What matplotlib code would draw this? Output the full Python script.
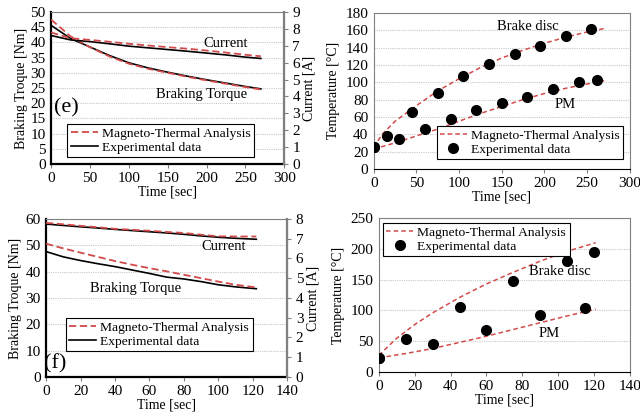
import matplotlib
matplotlib.use("Agg")
import matplotlib.pyplot as plt

plt.rcParams["font.family"] = ["Liberation Serif", "DejaVu Serif"]
plt.rcParams["font.size"] = 10
plt.rcParams["xtick.labelsize"] = 11
plt.rcParams["ytick.labelsize"] = 11

RED = "#d24b4b"

# ---------------- (e) torque / current ----------------
e_t_exp = [0, 25, 50, 75, 100, 125, 150, 175, 200, 225, 250, 270]
e_torque_exp = [45.6, 41.3, 38.5, 35.7, 33.3, 31.6, 30.2, 28.9, 27.7, 26.6, 25.5, 24.7]
e_torque_mta = [47.5, 42.0, 38.4, 35.4, 33.0, 31.3, 30.0, 28.7, 27.5, 26.4, 25.3, 24.5]
e_cur_exp = [7.61, 7.35, 7.25, 7.12, 6.98, 6.88, 6.78, 6.68, 6.57, 6.46, 6.33, 6.25]
e_cur_mta = [7.79, 7.45, 7.35, 7.24, 7.12, 7.02, 6.92, 6.83, 6.72, 6.60, 6.47, 6.38]
e_xticks = [0, 50, 100, 150, 200, 250, 300]

# ---------------- (e) temperatures ----------------
e_t_disc_line = [0, 10, 25, 50, 75, 100, 125, 150, 175, 200, 225, 250, 270]
e_disc_line = [25, 40, 55, 73, 90, 104, 117, 128, 137, 145, 152, 158, 162]
e_t_pm_line = [0, 25, 50, 75, 100, 125, 150, 175, 200, 225, 250, 270]
e_pm_line = [23, 30, 38, 46, 55, 64, 72, 80, 87, 93, 98, 102]
e_disc_t = [0, 15, 45, 75, 105, 135, 165, 195, 225, 255]
e_disc_pts = [25, 38, 66, 88, 107, 121, 133, 142, 153, 161]
e_pm_t = [0, 30, 60, 90, 120, 150, 180, 210, 240, 262]
e_pm_pts = [25, 34, 46, 58, 68, 76, 83, 92, 100, 103]

# ---------------- (f) torque / current ----------------
f_t = [0, 10, 20, 30, 40, 50, 60, 70, 80, 90, 100, 110, 122]
f_torque_exp = [47.6, 45.6, 44.2, 43.0, 41.9, 40.6, 39.3, 37.9, 37.2, 36.2, 35.0, 34.2, 33.5]
f_torque_mta = [50.6, 48.8, 47.2, 45.6, 44.0, 42.6, 41.3, 40.1, 38.8, 37.5, 36.2, 35.0, 34.0]
f_cur_exp = [7.74, 7.67, 7.60, 7.54, 7.47, 7.41, 7.35, 7.29, 7.22, 7.14, 7.07, 7.02, 6.97]
f_cur_mta = [7.80, 7.73, 7.65, 7.58, 7.50, 7.45, 7.40, 7.34, 7.29, 7.20, 7.12, 7.11, 7.11]
f_xticks = [0, 20, 40, 60, 80, 100, 120, 140]

# ---------------- (f) temperatures ----------------
f_t_disc_line = [0, 10, 20, 30, 45, 60, 75, 90, 105, 121]
f_disc_line = [27, 55, 77, 96, 121, 143, 162, 180, 196, 210]
f_t_pm_line = [0, 15, 30, 45, 60, 75, 90, 105, 121]
f_pm_line = [23, 30, 38, 48, 58, 69, 80, 91, 102]
f_disc_t = [0, 15, 45, 75, 105, 120]
f_disc_pts = [23, 54, 106, 148, 180, 195]
f_pm_t = [0, 30, 60, 90, 115]
f_pm_pts = [23, 46, 68, 92, 104]


def style_axes(ax, dark_left=True):
    ax.grid(axis="y", color="#c8c8c8", linestyle=(0, (1, 1)), linewidth=0.8)
    ax.set_axisbelow(True)
    for s in ["top", "right"]:
        ax.spines[s].set_color("#808080")
        ax.spines[s].set_linewidth(0.8)
    ax.spines["bottom"].set_color("black")
    ax.spines["bottom"].set_linewidth(1.6 if dark_left else 0.8)
    ax.spines["left"].set_color("black" if dark_left else "#808080")
    ax.spines["left"].set_linewidth(1.6 if dark_left else 0.8)
    ax.tick_params(axis="y", length=0, pad=4)
    ax.tick_params(axis="x", length=3, color="#808080", pad=3)


def legend(ax, **kw):
    leg = ax.legend(fancybox=False, edgecolor="black", framealpha=1,
                    handlelength=2.0, handletextpad=0.3, borderpad=0.25,
                    labelspacing=0.1, fontsize=9.7, **kw)
    leg.get_frame().set_linewidth(0.8)
    return leg


def torque_panel(rect, t, tq_mta, tq_exp, cur_mta, cur_exp, xticks, ymax, ystep,
                 cmax, label, label_pos, cur_pos, tq_pos, leg_anchor):
    ax = fig.add_axes(rect)
    ax2 = ax.twinx()
    ax.plot(t, tq_mta, color=RED, linestyle=(0, (4, 2)), linewidth=1.3,
            label="Magneto-Thermal Analysis", zorder=4)
    ax.plot(t, tq_exp, color="black", linewidth=1.2, label="Experimental data", zorder=3)
    ax2.plot(t, cur_mta, color=RED, linestyle=(0, (4, 2)), linewidth=1.3, zorder=4)
    ax2.plot(t, cur_exp, color="black", linewidth=1.2, zorder=3)
    ax.set_xlim(xticks[0], xticks[-1])
    ax.set_xticks(xticks)
    ax.set_ylim(0, ymax)
    ax.set_yticks(range(0, ymax + 1, ystep))
    ax2.set_ylim(0, cmax)
    ax2.set_yticks(range(0, cmax + 1))
    style_axes(ax)
    ax2.tick_params(axis="y", length=3, color="#808080", pad=3)
    ax2.spines["right"].set_color("#808080")
    ax2.spines["right"].set_linewidth(1.6)
    for s in ["top", "left", "bottom"]:
        ax2.spines[s].set_visible(False)
    ax.set_xlabel("Time [sec]", labelpad=0)
    ax.set_ylabel("Braking Troque [Nm]", labelpad=2)
    ax2.set_ylabel("Current [A]", labelpad=2)
    ax.text(*label_pos, label, fontsize=16, ha="center", va="center")
    ax.text(*cur_pos, "Current", fontsize=10.5, ha="center", va="center")
    ax.text(*tq_pos, "Braking Torque", fontsize=10.5, ha="center", va="center")
    legend(ax, loc="lower left", bbox_to_anchor=leg_anchor)
    return ax


def temp_panel(rect, xticks, ymax, ystep, lines, pts, disc_pos, pm_pos, leg_kw):
    ax = fig.add_axes(rect)
    first = True
    for lt, lv in lines:
        ax.plot(lt, lv, color=RED, linestyle=(0, (3, 2)), linewidth=1.1,
                label="Magneto-Thermal Analysis" if first else None, zorder=3)
        first = False
    first = True
    for pt, pv in pts:
        ax.plot(pt, pv, "o", color="black", markersize=7, linestyle="none",
                label="Experimental data" if first else None, zorder=4)
        first = False
    ax.set_xlim(xticks[0], xticks[-1])
    ax.set_xticks(xticks)
    ax.set_ylim(0, ymax)
    ax.set_yticks(range(0, ymax + 1, ystep))
    style_axes(ax, dark_left=False)
    ax.set_xlabel("Time [sec]", labelpad=0)
    ax.set_ylabel("Temperature [°C]", labelpad=4)
    ax.text(*disc_pos, "Brake disc", fontsize=10.5, ha="center", va="center")
    ax.text(*pm_pos, "PM", fontsize=10.5, ha="center", va="center")
    legend(ax, **leg_kw)
    return ax


fig = plt.figure(figsize=(6.4, 4.17), dpi=100)

torque_panel([0.080, 0.607, 0.364, 0.364], e_t_exp, e_torque_mta, e_torque_exp,
             e_cur_mta, e_cur_exp, e_xticks, 50, 5, 9, "(e)", (20, 18.4),
             (224, 39.8), (193, 22.7), (0.04, 0.0))

temp_panel([0.584, 0.595, 0.400, 0.374], e_xticks, 180, 20,
           [(e_t_disc_line, e_disc_line), (e_t_pm_line, e_pm_line)],
           [(e_disc_t, e_disc_pts), (e_pm_t, e_pm_pts)],
           (180, 164), (224, 74),
           dict(loc="lower right", bbox_to_anchor=(1.0, 0.02)))

torque_panel([0.072, 0.096, 0.377, 0.379], f_t, f_torque_mta, f_torque_exp,
             f_cur_mta, f_cur_exp, f_xticks, 60, 10, 8, "(f)", (5, 5),
             (103, 49.7), (52, 33.4), (0.055, 0.12))

temp_panel([0.592, 0.108, 0.392, 0.369], f_xticks, 250, 50,
           [(f_t_disc_line, f_disc_line), (f_t_pm_line, f_pm_line)],
           [(f_disc_t, f_disc_pts), (f_pm_t, f_pm_pts)],
           (101, 164), (95, 63),
           dict(loc="upper left", bbox_to_anchor=(-0.01, 1.01)))

fig.savefig("out.png", dpi=100)
